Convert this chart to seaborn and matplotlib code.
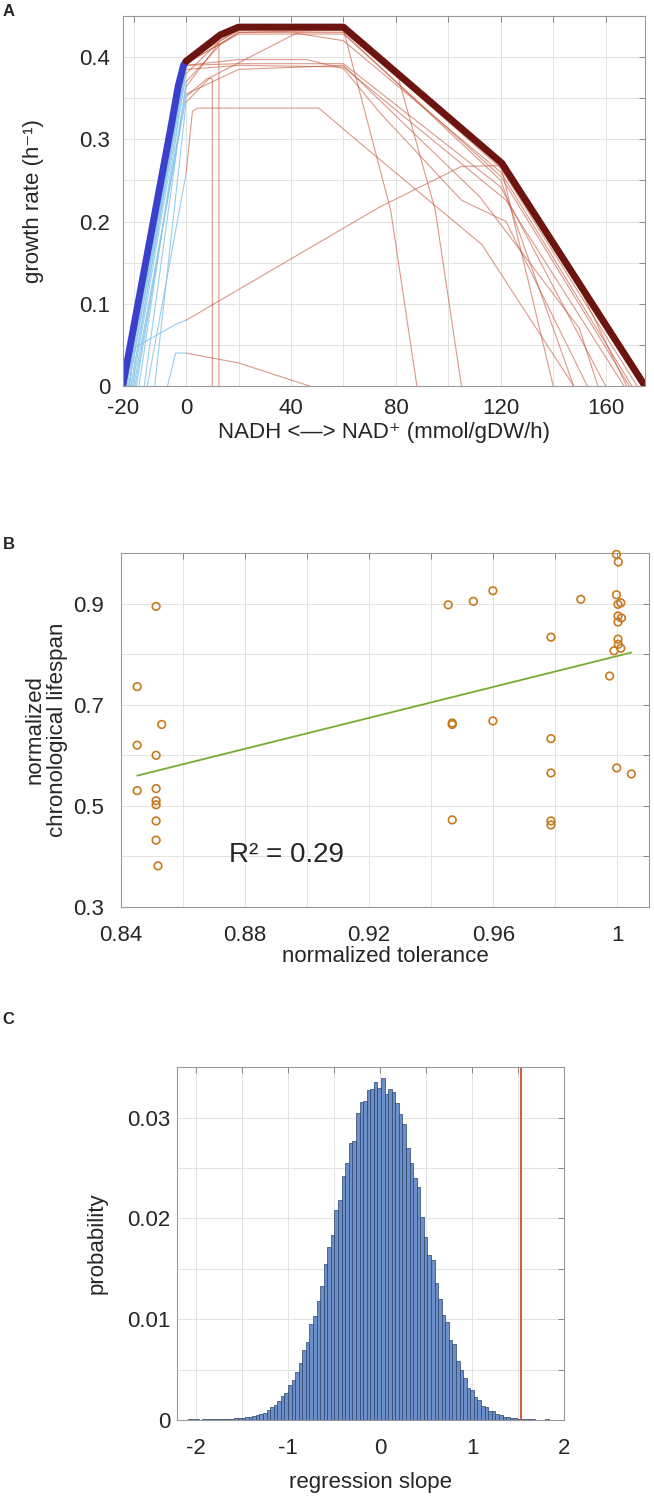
import numpy as np
import pandas as pd
import matplotlib
matplotlib.use("Agg")
import matplotlib.pyplot as plt
import seaborn as sns

# ---- panel A: growth rate vs NADH <-> NAD+ flux ----
main_x = [-24.2, -5.5, -3.0, -1.0, 0.0, 13.0, 20.0, 60.0, 120.4, 175.0]
main_y = [0.0, 0.32, 0.365, 0.39, 0.395, 0.427, 0.4365, 0.4365, 0.271, 0.0]

curves_x = [
    [-21.5, -20, -4, 0, 74, 105, 120, 150, 168],
    [-7.1, -4, 0, 20, 47],
    [-14.8, 0, 2.4, 4.3, 50.6, 66.5, 112.8, 147.8],
    [-20, 0, 8, 10, 10],
    [-19, 0, 12.5, 12.5],
    [-22, 0, 20, 46, 60, 74, 105, 122, 153],
    [-21, 0, 20, 60, 120, 160],
    [-18, 0, 20, 60, 122, 167],
    [-16, 0, 13, 20, 60, 78, 88],
    [-20.5, 0, 13, 20, 60, 81, 95, 105],
    [-23, 0, 13, 20, 60, 120, 140],
    [-22.5, 0, 20, 60, 120, 147.8],
    [-21.8, 0, 20, 60, 120, 172],
    [-21, 0, 20, 60, 120, 169],
    [-19.5, 0, 20, 60, 112, 150, 157],
    [-12, 0, 9, 42, 60, 120, 170],
]
curves_y = [
    [0, 0.046, 0.075, 0.08, 0.218, 0.267, 0.268, 0.12, 0],
    [0, 0.04, 0.04, 0.028, 0],
    [0, 0.259, 0.334, 0.338, 0.338, 0.295, 0.172, 0],
    [0, 0.352, 0.374, 0.374, 0],
    [0, 0.364, 0.417, 0],
    [0, 0.39, 0.397, 0.397, 0.386, 0.332, 0.226, 0.2, 0],
    [0, 0.39, 0.392, 0.392, 0.242, 0],
    [0, 0.385, 0.39, 0.388, 0.226, 0],
    [0, 0.37, 0.415, 0.43, 0.433, 0.214, 0],
    [0, 0.38, 0.42, 0.432, 0.432, 0.374, 0.214, 0],
    [0, 0.39, 0.425, 0.435, 0.435, 0.268, 0],
    [0, 0.392, 0.43, 0.43, 0.25, 0],
    [0, 0.394, 0.434, 0.434, 0.265, 0],
    [0, 0.393, 0.428, 0.428, 0.255, 0],
    [0, 0.355, 0.385, 0.39, 0.23, 0.07, 0],
    [0, 0.345, 0.375, 0.429, 0.42, 0.26, 0],
]

# ---- panel B: lifespan vs tolerance ----
tolerance = [0.8514, 0.8453, 0.8532, 0.8453, 0.8514, 0.8453, 0.8514, 0.8514,
             0.8514, 0.8514, 0.8514, 0.8520,
             0.9997, 1.0003, 0.9455, 0.9536, 0.9599, 0.9882, 0.9997, 1.0002,
             1.0011, 1.0002, 1.0013, 1.0002, 0.9786, 1.0002, 1.0003, 1.0011,
             0.9989, 0.9975, 0.9468, 0.9468, 0.9599, 0.9786, 0.9786, 0.9998,
             1.0045, 0.9468, 0.9786, 0.9786]
lifespan = [0.895, 0.736, 0.661, 0.620, 0.600, 0.530, 0.534, 0.510,
            0.502, 0.470, 0.432, 0.381,
            0.998, 0.983, 0.898, 0.905, 0.926, 0.909, 0.918, 0.899,
            0.902, 0.876, 0.872, 0.864, 0.834, 0.830, 0.820, 0.812,
            0.807, 0.757, 0.664, 0.661, 0.668, 0.633, 0.565, 0.575,
            0.563, 0.472, 0.470, 0.462]
r2_text = "R\u00b2 = 0.29"

# ---- panel C: permuted regression slopes ----
hist_start = -2.0847
hist_width = 0.0388
slope_probs = [
    0.00005, 0.0001, 0.00005, 0.0, 0.0001, 0.00005, 0.0001, 0.00005, 0.0001, 0.0001,
    0.0001, 0.0001, 0.0001, 0.0002, 0.0002, 0.0002, 0.0003, 0.0003, 0.0004,
    0.0005, 0.0006, 0.0007, 0.001, 0.0013, 0.0015, 0.0019, 0.0024, 0.0027, 0.0035,
    0.004, 0.0048, 0.0057, 0.0069, 0.0077, 0.0095, 0.0103, 0.0118, 0.0133, 0.0155,
    0.0172, 0.0184, 0.0208, 0.0218, 0.0242, 0.0255, 0.0275, 0.0277, 0.0305, 0.0316,
    0.0317, 0.0327, 0.0328, 0.0335, 0.0329,
    0.0339,
    0.0323, 0.0328, 0.0325, 0.0315, 0.0304, 0.0294, 0.027, 0.0255, 0.024, 0.0231,
    0.0201, 0.0182, 0.0164, 0.0159, 0.0136, 0.012, 0.0104, 0.0097, 0.0079, 0.0075,
    0.0059, 0.005, 0.0042, 0.0032, 0.003, 0.0023, 0.002, 0.0014, 0.0013, 0.0009,
    0.0009, 0.0006, 0.0005, 0.0003, 0.0003, 0.0002, 0.0002, 0.0001, 0.0001, 0.0001,
    0.00005, 0.00005, 0.00003, 0.00003, 0.0, 0.00005,
]
observed_slope = 1.525

sns.set_theme(style="white")
plt.rcParams['font.family'] = ['Liberation Sans', 'DejaVu Sans']
plt.rcParams['font.size'] = 16


def style_axes(ax, xticks, xlabels, yticks, ylabels, xpad, ypad):
    ax.set_xticks(xticks)
    ax.set_xticklabels(xlabels)
    ax.set_yticks(yticks)
    ax.set_yticklabels(ylabels)
    ax.grid(True, color='#e3e3e3', linewidth=0.7)
    ax.set_axisbelow(True)
    ax.tick_params(direction='in', length=4, width=0.6, color='#777777',
                   top=True, right=True, labelsize=16)
    ax.tick_params(axis='x', pad=xpad)
    ax.tick_params(axis='y', pad=ypad)
    for s in ax.spines.values():
        s.set_color('#999999')
        s.set_linewidth(0.8)


fig = plt.figure(figsize=(6.54, 14.96), dpi=100)

# A
axA = fig.add_axes([0.1876, 0.742, 0.7986, 0.2473])
for cx, cy in zip(curves_x, curves_y):
    cx = np.array(cx, dtype=float)
    cy = np.array(cy, dtype=float)
    neg = cx <= 0
    pos = cx >= 0
    sns.lineplot(x=cx[neg], y=cy[neg], sort=False, estimator=None, ax=axA,
                 color='#8ec8ec', linewidth=0.8, alpha=0.9)
    sns.lineplot(x=cx[pos], y=cy[pos], sort=False, estimator=None, ax=axA,
                 color='#c4553a', linewidth=0.8, alpha=0.6)
mx = np.array(main_x)
my = np.array(main_y)
sns.lineplot(x=mx[mx <= 0], y=my[mx <= 0], sort=False, estimator=None, ax=axA,
             color='#3a3fcc', linewidth=5, solid_capstyle='round')
sns.lineplot(x=mx[mx >= 0], y=my[mx >= 0], sort=False, estimator=None, ax=axA,
             color='#6c1510', linewidth=5, solid_capstyle='round')
axA.set_xlim(-24.2, 175)
axA.set_ylim(0, 0.45)
style_axes(axA, np.arange(-20, 161, 20),
           ['', '0', '', '40', '', '80', '', '120', '', '160'],
           np.arange(0, 0.451, 0.05),
           ['0', '', '0.1', '', '0.2', '', '0.3', '', '0.4', ''], 9, 9)
# the "-20" label sits at the left edge of the axis in the reference
axA.set_xticks([-24.2], ['-20'], minor=True)
axA.tick_params(axis='x', which='minor', length=0, pad=9, labelsize=16)
axA.set_xlabel('NADH <\u2014> NAD\u207a (mmol/gDW/h)', fontsize=16)
axA.set_ylabel('growth rate (h\u207b\u00b9)', fontsize=16)
axA.xaxis.set_label_coords(0.5, -0.097)
axA.yaxis.set_label_coords(-0.15, 0.5)

# B
axB = fig.add_axes([0.1846, 0.3939, 0.8083, 0.2362])
sns.regplot(x=np.array(tolerance), y=np.array(lifespan), ax=axB, scatter=False,
            ci=None, truncate=True, line_kws=dict(color='#77ac30', linewidth=1.3))
sns.scatterplot(x=tolerance, y=lifespan, ax=axB, marker='o', s=30,
                facecolors='none', edgecolors='#c77a20', linewidth=1.2,
                clip_on=False, zorder=3)
axB.text(0.8935, 0.402, r2_text, fontsize=20, ha='center', va='center')
axB.set_xlim(0.84, 1.0103)
axB.set_ylim(0.3, 1.0)
style_axes(axB, np.arange(0.84, 1.001, 0.02),
           ['0.84', '', '0.88', '', '0.92', '', '0.96', '', '1'],
           np.arange(0.3, 1.001, 0.1),
           ['0.3', '', '0.5', '', '0.7', '', '0.9', ''], 13, 12)
axB.set_xlabel('normalized tolerance', fontsize=16)
axB.set_ylabel('normalized\nchronological lifespan', fontsize=16, linespacing=1.1)
axB.xaxis.set_label_coords(0.5, -0.11)
axB.yaxis.set_label_coords(-0.1, 0.5)

# C
axC = fig.add_axes([0.2711, 0.0508, 0.5917, 0.2358])
edges = hist_start + hist_width * np.arange(len(slope_probs) + 1)
hist_df = pd.DataFrame({'slope': (edges[:-1] + edges[1:]) / 2,
                        'prob': slope_probs})
sns.histplot(data=hist_df, x='slope', weights='prob', bins=list(edges), ax=axC,
             color='#6a8fca', edgecolor='#2d4366', linewidth=0.5, alpha=1)
axC.axvline(observed_slope, color='#c8512d', linewidth=1.3)
axC.set_xlim(-2.2, 2.0)
axC.set_ylim(0, 0.035)
style_axes(axC, np.arange(-2, 2.01, 0.5),
           ['-2', '', '-1', '', '0', '', '1', '', '2'],
           np.arange(0, 0.0351, 0.005),
           ['0', '', '0.01', '', '0.02', '', '0.03', ''], 13, 5)
axC.set_xlabel('regression slope', fontsize=16)
axC.set_ylabel('probability', fontsize=16)
axC.xaxis.set_label_coords(0.5, -0.148)
axC.yaxis.set_label_coords(-0.18, 0.5)

for lab, yy in [('A', 0.9925), ('B', 0.636), ('C', 0.3185)]:
    fig.text(0.004, yy, lab, fontsize=12, fontweight='bold', va='center', ha='left')

fig.savefig('out.png', dpi=100)
